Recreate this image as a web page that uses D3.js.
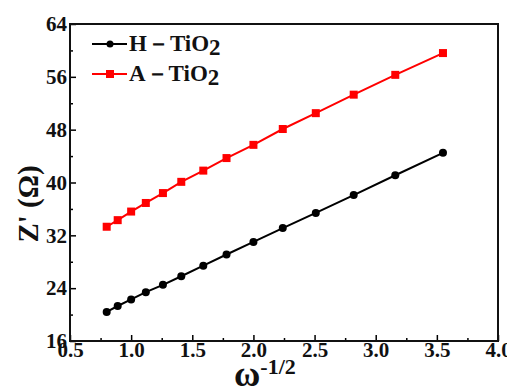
<!DOCTYPE html>
<html>
<head>
<meta charset="utf-8" />
<script src="https://d3js.org/d3.v7.min.js"></script>
<style>
body { margin: 0; padding: 0; background: #fff; }
</style>
</head>
<body>
<div id="chart"></div>
<script>
// omega^-1/2 values
var xVals = [0.80, 0.89, 1.00, 1.12, 1.26, 1.41, 1.59, 1.78, 2.00, 2.24, 2.51, 2.82, 3.16, 3.55];
var hTiO2 = [20.4, 21.3, 22.3, 23.4, 24.5, 25.8, 27.4, 29.1, 31.0, 33.1, 35.4, 38.1, 41.1, 44.5];
var aTiO2 = [33.3, 34.3, 35.6, 36.9, 38.4, 40.1, 41.8, 43.7, 45.7, 48.1, 50.5, 53.3, 56.3, 59.6];
var xTicks = [0.5, 1.0, 1.5, 2.0, 2.5, 3.0, 3.5, 4.0];
var yTicks = [16, 24, 32, 40, 48, 56, 64];

var FONT = "Liberation Serif";

var W = 507, H = 389;
var margin = {top: 24, right: 9, bottom: 48, left: 70};
var width = W - margin.left - margin.right,
    height = H - margin.top - margin.bottom;

var svg = d3.select("#chart").append("svg")
    .attr("width", W).attr("height", H)
    .attr("font-family", FONT).attr("font-weight", "bold");
var g = svg.append("g")
    .attr("transform", "translate(" + margin.left + "," + margin.top + ")");

var x = d3.scaleLinear().domain([0.5, 4.0]).range([0, width]);
var y = d3.scaleLinear().domain([16, 64]).range([height, 0]);

// minor ticks (inward)
var xMinor = d3.range(0.75, 4.0, 0.5);
var yMinor = d3.range(20, 64, 8);
g.append("g").attr("transform", "translate(0," + height + ")")
  .call(d3.axisBottom(x).tickValues(xMinor).tickSize(-3).tickFormat(""))
  .call(function(a) { a.select(".domain").remove(); a.selectAll("line").attr("stroke-width", 1.5); });
g.append("g")
  .call(d3.axisLeft(y).tickValues(yMinor).tickSize(-3).tickFormat(""))
  .call(function(a) { a.select(".domain").remove(); a.selectAll("line").attr("stroke-width", 1.5); });

// major axes
var xAxis = g.append("g").attr("transform", "translate(0," + height + ")")
  .call(d3.axisBottom(x).tickValues(xTicks).tickSize(-6).tickPadding(3).tickFormat(d3.format(".1f")));
var yAxis = g.append("g")
  .call(d3.axisLeft(y).tickValues(yTicks).tickSize(-6).tickPadding(3));
[xAxis, yAxis].forEach(function(a) {
  a.attr("font-family", FONT).attr("font-size", 21);
  a.select(".domain").remove();
  a.selectAll("line").attr("stroke-width", 1.5);
  a.selectAll("text").attr("fill", "#111");
});
xAxis.selectAll("text").attr("dy", "0.6em");
yAxis.selectAll("text").attr("dy", "0.32em").attr("x", -3);

// frame
g.append("rect").attr("width", width).attr("height", height)
  .attr("fill", "none").attr("stroke", "#111").attr("stroke-width", 2);

var series = [
  {name: "H", vals: hTiO2, color: "#000", shape: "circle"},
  {name: "A", vals: aTiO2, color: "#f00", shape: "square"}
];

var line = d3.line().x(function(d) { return x(d[0]); }).y(function(d) { return y(d[1]); });

series.forEach(function(s) {
  var pts = xVals.map(function(v, i) { return [v, s.vals[i]]; });
  g.append("path").datum(pts).attr("d", line)
    .attr("fill", "none").attr("stroke", s.color).attr("stroke-width", 2);
  if (s.shape === "circle") {
    g.selectAll(null).data(pts).enter().append("circle")
      .attr("cx", function(d) { return x(d[0]); })
      .attr("cy", function(d) { return y(d[1]); })
      .attr("r", 4).attr("fill", s.color);
  } else {
    g.selectAll(null).data(pts).enter().append("rect")
      .attr("x", function(d) { return x(d[0]) - 4; })
      .attr("y", function(d) { return y(d[1]) - 4; })
      .attr("width", 8).attr("height", 8).attr("fill", s.color);
  }
});

// legend
var leg = svg.append("g");
series.forEach(function(s, i) {
  var ly = 44 + i * 30;
  leg.append("line").attr("x1", 92).attr("x2", 127).attr("y1", ly).attr("y2", ly)
    .attr("stroke", s.color).attr("stroke-width", 2);
  if (s.shape === "circle") {
    leg.append("circle").attr("cx", 110).attr("cy", ly).attr("r", 3.5).attr("fill", s.color);
  } else {
    leg.append("rect").attr("x", 106).attr("y", ly - 4).attr("width", 8).attr("height", 8).attr("fill", s.color);
  }
  var t = leg.append("text").attr("x", 129).attr("y", ly + 7)
    .attr("font-size", 23).attr("fill", "#111");
  t.append("tspan").text(s.name + "\uFF0DTiO");
  t.append("tspan").text("2").attr("dy", 4);
});

// y label
svg.append("text")
  .attr("transform", "translate(38,204) rotate(-90)")
  .attr("text-anchor", "middle")
  .attr("font-size", 29).attr("fill", "#111")
  .text("Z' (\u03A9)");

// x label
var xl = svg.append("text").attr("x", 234).attr("y", 386).attr("fill", "#111");
xl.append("tspan").text("\u03C9").attr("font-size", 36);
xl.append("tspan").text("-1/2").attr("font-size", 22).attr("dy", -12);
</script>
</body>
</html>
